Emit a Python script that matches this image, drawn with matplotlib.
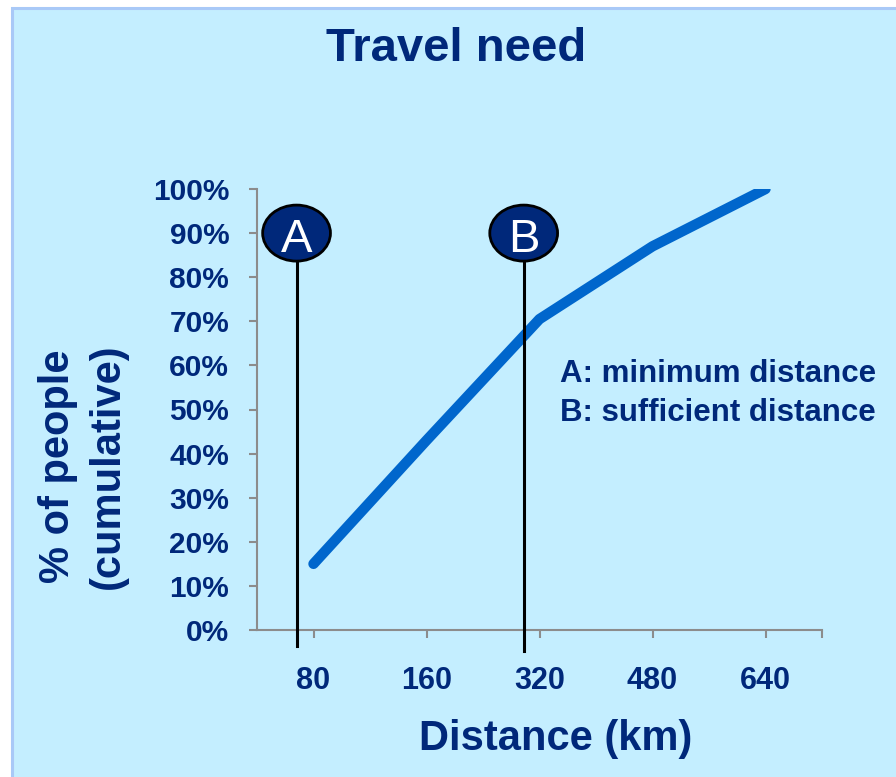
import matplotlib.pyplot as plt
from matplotlib.patches import Ellipse, Rectangle

# data
distances = ["80", "160", "320", "480", "640"]
cum_share = [15, 43, 70.5, 87, 100]
y_ticks = [0, 10, 20, 30, 40, 50, 60, 70, 80, 90, 100]
marker_names = ["A", "B"]
marker_pos = [-0.15, 1.86]   # category-axis positions of the two thresholds
notes = ["A: minimum distance", "B: sufficient distance"]

navy = "#00287A"
bg = "#C4EEFF"
plt.rcParams["font.family"] = ["Liberation Sans", "DejaVu Sans"]

W, H = 896, 777
fig = plt.figure(figsize=(W / 100, H / 100), dpi=100)
fig.patch.set_facecolor("white")
# light blue panel with a thin border on top/left only (runs off the right/bottom edge)
fig.patches.append(Rectangle((12 / W, -0.1), 1.2, 1.1 - 8 / H, transform=fig.transFigure,
                             facecolor=bg, edgecolor="#A9C9F7", linewidth=2.2, zorder=-10))

ax = fig.add_axes([257 / W, 147 / H, 565 / W, 441 / H])
ax.set_facecolor(bg)

x = list(range(len(distances)))
ax.plot(x, cum_share, color="#0066CC", linewidth=7.5, solid_capstyle="round", zorder=3)

ax.set_xlim(-0.5, len(distances) - 0.5)
ax.set_ylim(0, 100)
ax.set_xticks(x)
ax.set_xticklabels(distances)
ax.set_xticks([len(distances) - 0.5], minor=True)
ax.set_yticks(y_ticks)
ax.set_yticklabels([f"{v}%" for v in y_ticks])

for s in ["top", "right"]:
    ax.spines[s].set_visible(False)
for s in ["left", "bottom"]:
    ax.spines[s].set_color("#8C8C8C")
    ax.spines[s].set_linewidth(1.5)
ax.tick_params(axis="y", which="both", direction="out", length=6, width=1.5, color="#8C8C8C",
               labelsize=21.5, labelcolor=navy, pad=14)
ax.tick_params(axis="x", which="both", direction="out", length=6, width=1.5, color="#8C8C8C",
               labelsize=22, labelcolor=navy, pad=20)
for lab in ax.get_xticklabels() + ax.get_yticklabels():
    lab.set_fontweight("bold")

# threshold markers A and B
for name, pos, bottom in zip(marker_names, marker_pos, [-3.6, -4.8]):
    ax.plot([pos, pos], [bottom, 90], color="black", linewidth=2.2, clip_on=False, zorder=4)
    ax.add_patch(Ellipse((pos, 90), 0.6, 12.7, facecolor=navy, edgecolor="black",
                         linewidth=2, clip_on=False, zorder=5))
    ax.text(pos, 85.8, name, color="white", fontsize=34, ha="center", va="baseline", zorder=6)

# titles and labels
fig.text(456 / W, 1 - 61 / H, "Travel need", fontsize=34, fontweight="bold", color=navy,
         ha="center", va="baseline")
fig.text(556 / W, 1 - 750 / H, "Distance (km)", fontsize=30, fontweight="bold", color=navy,
         ha="center", va="baseline")
fig.text(83 / W, 1 - 466 / H, "% of people\n(cumulative)", fontsize=30, fontweight="bold",
         color=navy, ha="center", va="center", rotation=90, linespacing=1.3)

for i, note in enumerate(notes):
    fig.text(560 / W, 1 - (382 + 39 * i) / H, note, fontsize=22.5, fontweight="bold",
             color=navy, ha="left", va="baseline")

fig.savefig("out.png", dpi=100, facecolor=fig.get_facecolor())
